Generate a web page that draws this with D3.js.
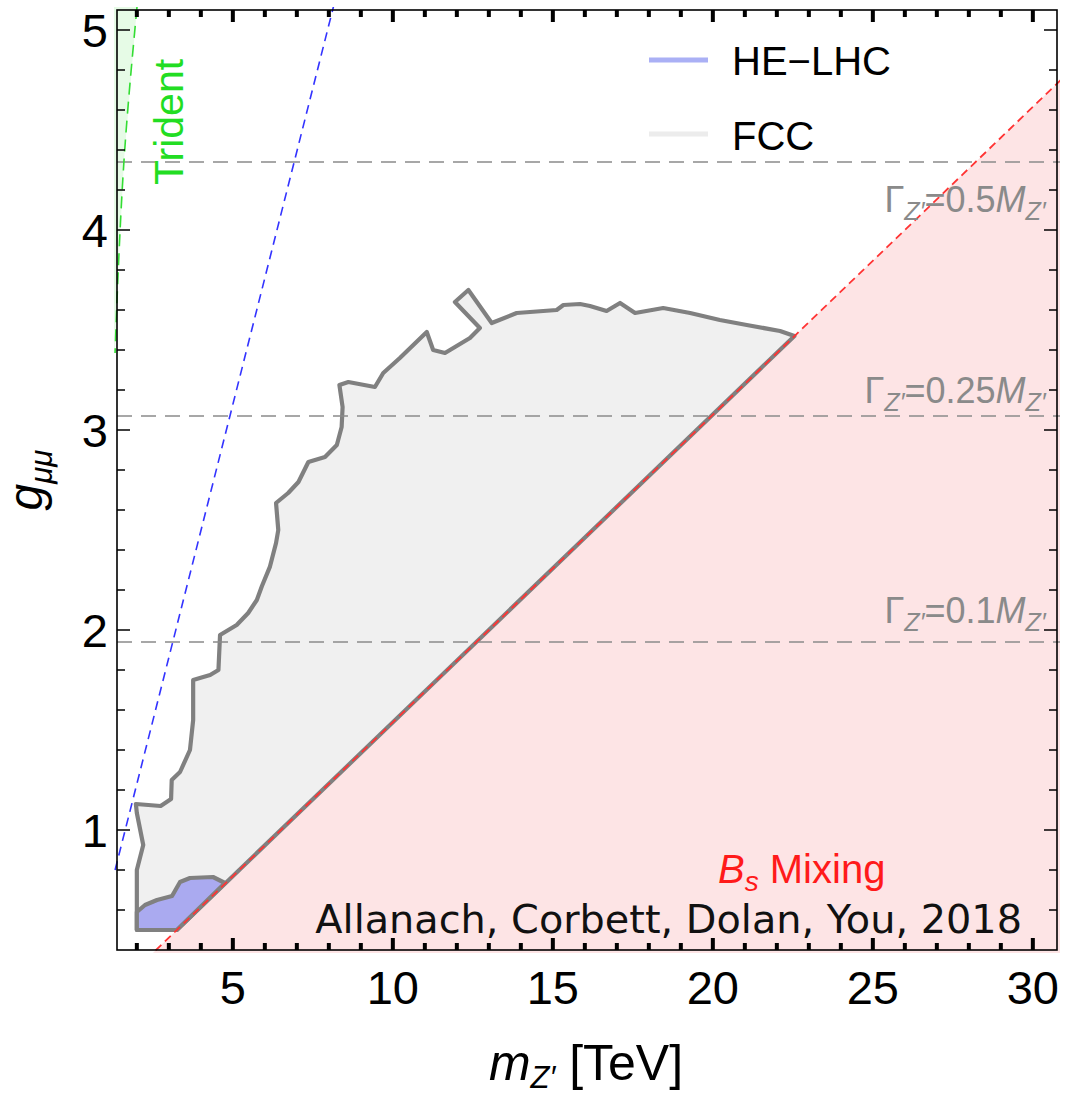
<!DOCTYPE html>
<html><head><meta charset="utf-8">
<script src="https://cdn.jsdelivr.net/npm/d3@7"></script>
<style>body{margin:0;background:#fff}svg{display:block}</style>
</head><body>
<svg id="c" width="1091" height="1094"></svg>
<script>
// ---------- data ----------
const xTickLabels = [5, 10, 15, 20, 25, 30];
const yTickLabels = [1, 2, 3, 4, 5];
// FCC reach region boundary [m_Z' (TeV), g_mumu]
const fccBoundary = [
  [2.00,0.50],[2.00,0.80],[2.20,0.925],[2.00,1.085],[1.97,1.13],[2.745,1.12],[3.07,1.155],
  [3.09,1.25],[3.35,1.29],[3.66,1.40],[3.76,1.55],[3.76,1.75],[3.97,1.76],[4.29,1.775],
  [4.55,1.80],[4.60,1.975],[5.12,2.025],[5.48,2.085],[5.75,2.15],[5.91,2.22],[6.16,2.317],
  [6.35,2.435],[6.42,2.50],[6.35,2.635],[6.73,2.685],[7.05,2.74],[7.36,2.84],[7.88,2.865],
  [8.25,2.925],[8.40,3.015],[8.43,3.115],[8.33,3.225],[8.61,3.24],[9.44,3.215],[9.70,3.285],
  [10.22,3.36],[11.06,3.49],[11.26,3.40],[11.63,3.385],[12.41,3.46],[12.72,3.51],[11.94,3.64],
  [12.36,3.70],[13.09,3.535],[13.87,3.585],[15.12,3.60],[15.33,3.625],[15.85,3.63],[16.16,3.62],
  [16.68,3.595],[17.10,3.635],[17.57,3.585],[18.45,3.61],[19.29,3.585],[20.22,3.55],[21.06,3.525],
  [22.10,3.495],[22.55,3.47],[3.25,0.50]
];
// HE-LHC reach region boundary
const heLhcBoundary = [
  [2.00,0.50],[2.00,0.59],[2.255,0.625],[2.63,0.65],[3.10,0.67],[3.35,0.74],[3.66,0.76],
  [4.38,0.765],[4.755,0.735],[3.25,0.50]
];
// B_s mixing bound (straight line, excluded below/right)
const bsMixingLine = [[2.0, 0.3077], [31.2, 4.80]];
// Neutrino trident bound
const tridentLine = [[2.005,5.115],[1.60,4.35],[1.41,3.765],[1.32,3.385]];
// blue dashed line
const blueDashedLine = [[1.32,0.80],[8.15,5.12]];
// Z' width lines
const widthRatios = ["0.5", "0.25", "0.1"];
const widthCouplings = [4.34, 3.07, 1.94];
const widthLabelG = [4.09, 3.135, 2.035];

// ---------- setup ----------
const FONT = "'Liberation Sans', Arial, sans-serif";
const svg = d3.select('#c');
const L = 117, R = 1057, T = 10, B = 950;
const x = d3.scaleLinear().domain([1.38, 30.755]).range([L, R]);
const y = d3.scaleLinear().domain([0.4, 5.1]).range([B, T]);

svg.append('defs').append('clipPath').attr('id','clip')
  .append('rect').attr('x', L-3).attr('y', T-3).attr('width', R-L+6).attr('height', B-T+6);

const plot = svg.append('g').attr('clip-path','url(#clip)');
const line = d3.line().x(d=>x(d[0])).y(d=>y(d[1]));

// B_s pink region
const bsPoly = [bsMixingLine[0], bsMixingLine[1], [bsMixingLine[1][0], 0], [bsMixingLine[0][0], 0]];
plot.append('path').attr('d', line(bsPoly) + 'Z').attr('fill', '#fde4e5');

// Trident green region
const trPoly = tridentLine.concat([[1.2, tridentLine[tridentLine.length-1][1]], [1.2, tridentLine[0][1]]]);
plot.append('path').attr('d', line(trPoly) + 'Z').attr('fill', '#e6fbe6');

// FCC region
plot.append('path').attr('d', line(fccBoundary) + 'Z')
  .attr('fill', '#f0f0f0').attr('stroke', '#808080').attr('stroke-width', 4.2).attr('stroke-linejoin','round');
// HE-LHC region
plot.append('path').attr('d', line(heLhcBoundary) + 'Z')
  .attr('fill', '#aaaaf0').attr('stroke', '#808080').attr('stroke-width', 4.2).attr('stroke-linejoin','round');

// width lines
widthCouplings.forEach(g => {
  plot.append('line').attr('x1', L).attr('x2', R+3).attr('y1', y(g)).attr('y2', y(g))
    .attr('stroke', '#8a8a8a').attr('stroke-width', 1.5).attr('stroke-dasharray', '15,9');
});

// B_s line
plot.append('path').attr('d', line(bsMixingLine)).attr('fill','none')
  .attr('stroke', '#ff3333').attr('stroke-width', 1.8).attr('stroke-dasharray', '8,5');
// blue dashed
plot.append('path').attr('d', line(blueDashedLine)).attr('fill','none')
  .attr('stroke', '#3333ff').attr('stroke-width', 1.6).attr('stroke-dasharray', '9,6');
// trident dashed
plot.append('path').attr('d', d3.line().curve(d3.curveMonotoneY).x(d=>x(d[0])).y(d=>y(d[1]))(tridentLine)).attr('fill','none')
  .attr('stroke', '#33dd33').attr('stroke-width', 1.6).attr('stroke-dasharray', '12,7');

// ---------- rich text helper ----------
function rich(parent, px, py, parts, o) {
  const t = parent.append('text').attr('x', px).attr('y', py)
    .attr('font-size', o.size).attr('fill', o.fill || '#000')
    .attr('text-anchor', o.anchor || 'start').attr('font-family', o.family || FONT);
  if (o.transform) t.attr('transform', o.transform);
  let cur = 0;
  const sh = o.subShift == null ? 0.27 : o.subShift;
  parts.forEach(p => {
    const shift = p.sub ? o.size * sh : 0;
    const ts = t.append('tspan').text(p.t).attr('dy', shift - cur);
    cur = shift;
    if (p.sub) ts.attr('font-size', o.size * (o.subScale || 0.7));
    if (p.it) ts.attr('font-style', 'italic');
  });
  return t;
}

// width labels
widthRatios.forEach((r, i) => {
  rich(svg, x(30.4), y(widthLabelG[i]), [
    {t:'Γ'}, {t:'Z′', sub:true, it:true}, {t:'=' + r}, {t:'M', it:true}, {t:'Z′', sub:true, it:true}
  ], {size: 36, fill: '#8a8a8a', anchor: 'end', subShift: 0.22});
});

// Trident label
svg.append('text').attr('transform', 'translate(183,185) rotate(-90)')
  .attr('font-family', FONT).attr('font-size', 41).attr('fill', '#22dd22').text('Trident');

// B_s Mixing
rich(svg, 718, 883, [{t:'B', it:true}, {t:'s', sub:true, it:true}, {t:' Mixing'}], {size: 40, fill: '#ff1a1a', subShift: 0.2});

// credit
svg.append('text').attr('x', 1022).attr('y', 933).attr('text-anchor','end')
  .attr('font-family', "'DejaVu Sans', sans-serif").attr('font-size', 39.8).attr('fill', '#111')
  .text('Allanach, Corbett, Dolan, You, 2018');

// legend
const legend = [{label:'HE−LHC', color:'#aab0f5', yy:60, ty:75}, {label:'FCC', color:'#ececec', yy:134, ty:150}];
legend.forEach(d => {
  svg.append('line').attr('x1', 649).attr('x2', 708).attr('y1', d.yy).attr('y2', d.yy)
    .attr('stroke', d.color).attr('stroke-width', 5);
  svg.append('text').attr('x', 732).attr('y', d.ty).attr('font-family', FONT).attr('font-size', 40).text(d.label);
});

// ---------- frame & ticks ----------
const ax = svg.append('g');
ax.append('rect').attr('x', L).attr('y', T).attr('width', R-L).attr('height', B-T)
  .attr('fill', 'none').attr('stroke', '#000').attr('stroke-width', 1.6);

const xMinor = d3.range(2, 31).filter(v => !xTickLabels.includes(v));
const yMinor = d3.range(6, 51, 2).map(v => v/10).filter(v => !yTickLabels.includes(v));

function xTicks(vals, len) {
  vals.forEach(v => {
    ax.append('line').attr('x1', x(v)).attr('x2', x(v)).attr('y1', B).attr('y2', B-len).attr('stroke','#000').attr('stroke-width', 4);
    ax.append('line').attr('x1', x(v)).attr('x2', x(v)).attr('y1', T).attr('y2', T+len).attr('stroke','#000').attr('stroke-width', 4);
  });
}
function yTicks(vals, len) {
  vals.forEach(v => {
    ax.append('line').attr('x1', L).attr('x2', L+len).attr('y1', y(v)).attr('y2', y(v)).attr('stroke','#000').attr('stroke-width', 1.5);
    ax.append('line').attr('x1', R).attr('x2', R-len).attr('y1', y(v)).attr('y2', y(v)).attr('stroke','#000').attr('stroke-width', 1.5);
  });
}
xTicks(xTickLabels, 12); xTicks(xMinor, 7);
yTicks(yTickLabels, 13); yTicks(yMinor, 8);

xTickLabels.forEach(v => {
  ax.append('text').attr('x', x(v)).attr('y', 1004).attr('text-anchor','middle')
    .attr('font-family', FONT).attr('font-size', 47).text(v);
});
yTickLabels.forEach(v => {
  ax.append('text').attr('x', 108).attr('y', y(v) + 17).attr('text-anchor','end')
    .attr('font-family', FONT).attr('font-size', 47).text(v);
});

// axis titles
rich(svg, 586, 1080, [{t:'m', it:true}, {t:'Z′', sub:true, it:true}, {t:' [TeV]'}], {size: 50, anchor:'middle', subShift: 0.16, subScale: 0.62});
rich(svg, 0, 0, [{t:'g', it:true}, {t:'μμ', sub:true, it:true}], {size: 48, anchor:'middle', transform:'translate(42,480) rotate(-90)', subShift: 0.2, subScale: 0.65});
</script>
</body></html>
